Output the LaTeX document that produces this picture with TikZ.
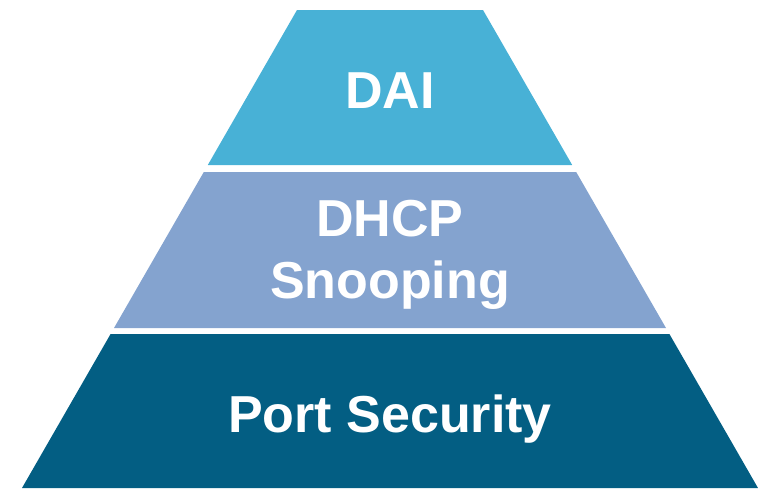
\documentclass[tikz,border=0pt]{standalone}
\usepackage{fontspec}
\setmainfont{Liberation Sans}
\usepackage{tikz}

\definecolor{layertop}{RGB}{72,177,214}
\definecolor{layermid}{RGB}{132,163,207}
\definecolor{layerbot}{RGB}{3,94,131}

\begin{document}
\begin{tikzpicture}[x=1pt, y=-1pt, layer/.style={draw=none}, every node/.style={text=white, inner sep=0pt, font=\bfseries\fontsize{52}{62}\selectfont}]
        \useasboundingbox (0,0) rectangle (758,488);

        \fill[layertop] (297,10) -- (483,10) -- (572.2,165) -- (207.8,165) -- cycle;
        \fill[layermid] (203.8,172) -- (576.2,172) -- (666,328) -- (114,328) -- cycle;
        \fill[layerbot] (110.6,334) -- (669.4,334) -- (758,488) -- (22,488) -- cycle;

        \node[anchor=base] (dai) at (390,108) {DAI};
        \node[align=center] (dhcp) at (390,255) {DHCP\\Snooping};
        \node[anchor=base] (portsec) at (390,432) {Port Security};
    \end{tikzpicture}
\end{document}
